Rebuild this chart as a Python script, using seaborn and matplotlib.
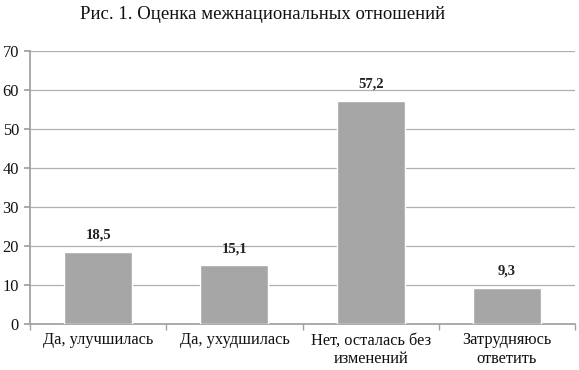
import matplotlib
matplotlib.use('Agg')
import matplotlib.pyplot as plt
import seaborn as sns
import pandas as pd

# Data
categories = ['Да, улучшилась', 'Да, ухудшилась', 'Нет, осталась без\nизменений', 'Затрудняюсь\nответить']
values = [18.5, 15.1, 57.2, 9.3]
labels = ['18,5', '15,1', '57,2', '9,3']

df = pd.DataFrame({'cat': categories, 'val': values})

sns.set_theme(style='white')
plt.rcParams['font.family'] = ['Liberation Serif', 'DejaVu Serif']

fig = plt.figure(figsize=(5.79, 3.70), dpi=100)
ax = fig.add_axes([0.052, 0.124, 0.941, 0.738])

sns.barplot(data=df, x='cat', y='val', color='#a6a6a6', saturation=1, width=0.5, ax=ax, zorder=3)

for i, (v, lab) in enumerate(zip(values, labels)):
    ax.text(i, v + 2.6, lab, ha='center', va='bottom', fontsize=10.5, fontweight='bold', color='#222222')

ax.set_ylim(0, 70)
ax.set_xlim(-0.5, 3.5)
ax.set_yticks(range(0, 71, 10))
ax.yaxis.grid(True, color='#b0b0b0', linewidth=0.9, zorder=0)
ax.set_axisbelow(True)
ax.set_xlabel('')
ax.set_ylabel('')

for s in ['top', 'right']:
    ax.spines[s].set_visible(False)
ax.spines['left'].set_color('#a0a0a0')
ax.spines['bottom'].set_color('#a0a0a0')

ax.set_xticks([-0.5, 0.5, 1.5, 2.5, 3.5], minor=True)
ax.tick_params(axis='x', which='major', length=0, labelsize=11.8, pad=6, colors='#111111')
ax.tick_params(axis='x', which='minor', length=4, color='#a0a0a0', direction='out', bottom=True)
ax.tick_params(axis='y', which='major', length=4, color='#a0a0a0', labelsize=11.8, pad=4, left=True, labelcolor='#111111')

fig.text(0.453, 0.985, 'Рис. 1. Оценка межнациональных отношений', ha='center', va='top', fontsize=13.5, color='#111111')

fig.savefig('out.png', dpi=100)
